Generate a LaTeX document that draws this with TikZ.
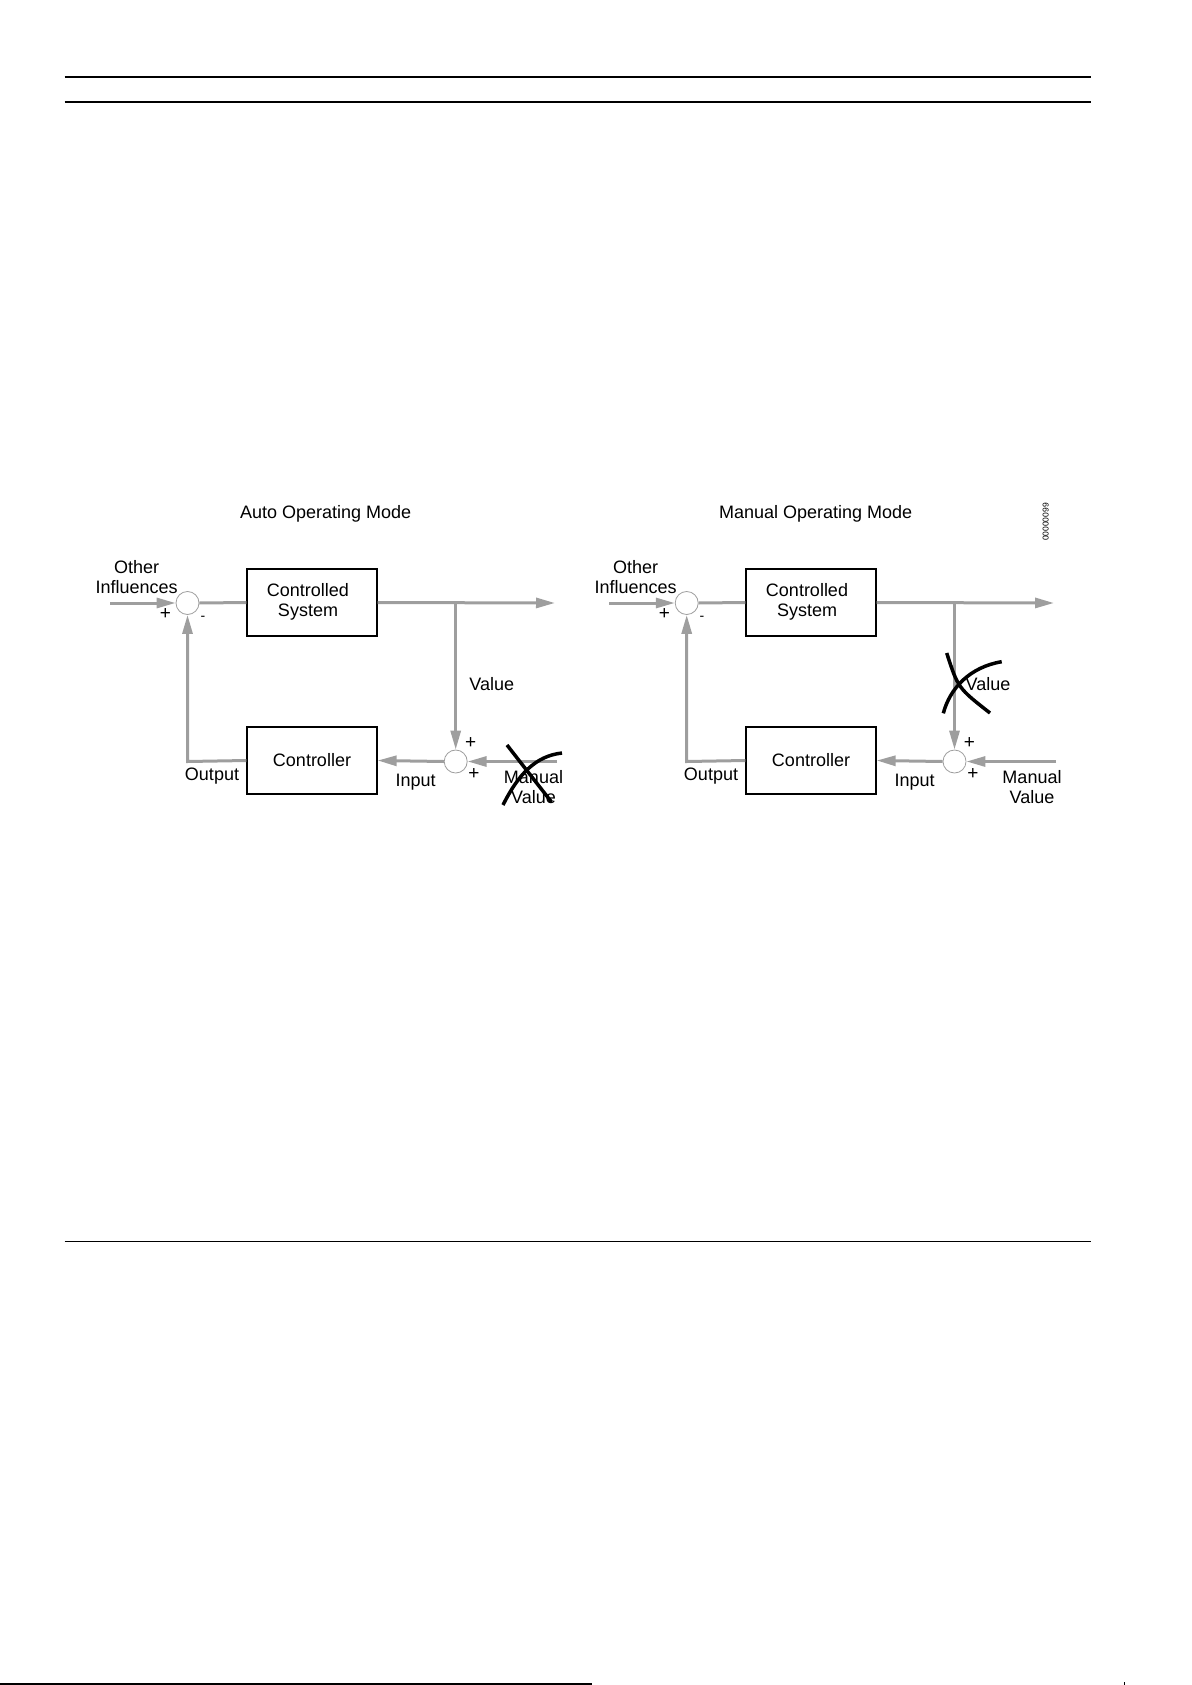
\documentclass[tikz,border=0pt]{standalone}
\usepackage{fontspec}
\setmainfont{Liberation Sans}
\usetikzlibrary{arrows.meta}
\definecolor{lgray}{HTML}{9E9E9E}
\begin{document}
\begin{tikzpicture}[x=1pt,y=-1pt,
  lbl/.style={font=\fontsize{18}{20}\selectfont, inner sep=0pt, align=center},
  sgn/.style={font=\fontsize{19}{20}\selectfont, inner sep=0pt},
  mns/.style={font=\fontsize{14}{16}\selectfont, inner sep=0pt},
  blk/.style={draw=black, line width=1.2pt, minimum width=130pt, minimum height=67pt, inner sep=0pt},
  sumc/.style={circle, draw=lgray, line width=0.8pt, minimum size=23pt, inner sep=0pt},
  sig/.style={draw=lgray, line width=3pt},
  sigarr/.style={sig, -{Triangle[length=19pt,width=10pt]}},
  crossln/.style={draw=black, line width=3.5pt},
  rulel/.style={draw=black, line width=1.3pt}]
\useasboundingbox (0,0) rectangle (1191,1685);
% page rules
\draw[rulel] (64.5,77) -- (1091,77);
\draw[rulel] (64.5,102) -- (1091,102);
\draw[rulel] (64.5,1241.5) -- (1091,1241.5);
\draw[draw=black, line width=2pt] (0,1683.5) -- (592,1683.5);
\draw[draw=black, line width=0.8pt] (1124,1682) -- (1124,1685);
% ---------------- left diagram ----------------
\node[lbl] (atitle) at (325.7,514) {Auto Operating Mode};
\node[sumc] (a1) at (187.5,603) {};
\node[blk] (acs) at (312,602.5) {};
\node[lbl] (acst) at (308,602) {Controlled\\System};
\node[blk,lbl] (actl) at (312,760.5) {Controller};
\node[sumc] (a2) at (455.7,761.5) {};
\coordinate (ain) at (110,603);
\coordinate (aout) at (555,603);
\coordinate (abr) at (455.7,603);
\coordinate (aman) at (557,761.5);
\coordinate (acorner) at (187.5,761.5);
\draw[sigarr] (ain) -- (a1.west);
\draw[sig] (a1.east) -- (acs.west);
\draw[sigarr] (acs.east) -- (aout);
\draw[sigarr] (abr) -- (a2.north);
\draw[sigarr] (aman) -- (a2.east);
\draw[sigarr] (a2.west) -- (actl.east);
\draw[sigarr] (actl.west) -- (acorner) -- (a1.south);
\node[lbl] (aoi) at (136.7,576.7) {Other\\Influences};
\node[sgn] (ap1) at (165.5,614) {+};
\node[mns] (am1) at (203,618) {-};
\node[lbl] (aval) at (491.7,684) {Value};
\node[lbl] (ainp) at (415.7,781.7) {Input};
\node[lbl] (aoutp) at (212,776) {Output};
\node[sgn] (ap2) at (470.7,743) {+};
\node[sgn] (ap3) at (474,774) {+};
\node[lbl] (amv) at (533.5,787) {Manual\\Value};
\draw[crossln] (507,745) .. controls (528,772) .. (551.5,802);
\draw[crossln] (503,805) .. controls (518,775) and (535,756) .. (562,753);
% ---------------- right diagram ----------------
\node[lbl] (btitle) at (815.7,514) {Manual Operating Mode};
\node[font=\fontsize{8.5}{9}\selectfont, rotate=90, inner sep=0pt] (bid) at (1045.7,522) {00000099};
\node[sumc] (b1) at (686.7,603) {};
\node[blk] (bcs) at (811,602.5) {};
\node[lbl] (bcst) at (807,602) {Controlled\\System};
\node[blk,lbl] (bctl) at (811,760.5) {Controller};
\node[sumc] (b2) at (954.5,761.5) {};
\coordinate (bin) at (609,603);
\coordinate (bout) at (1054,603);
\coordinate (bbr) at (954.5,603);
\coordinate (bman) at (1056,761.5);
\coordinate (bcorner) at (686.7,761.5);
\draw[sigarr] (bin) -- (b1.west);
\draw[sig] (b1.east) -- (bcs.west);
\draw[sigarr] (bcs.east) -- (bout);
\draw[sigarr] (bbr) -- (b2.north);
\draw[sigarr] (bman) -- (b2.east);
\draw[sigarr] (b2.west) -- (bctl.east);
\draw[sigarr] (bctl.west) -- (bcorner) -- (b1.south);
\node[lbl] (boi) at (635.7,576.7) {Other\\Influences};
\node[sgn] (bp1) at (664.5,614) {+};
\node[mns] (bm1) at (702,618) {-};
\node[lbl] (bval) at (988,684) {Value};
\node[lbl] (binp) at (914.7,781.7) {Input};
\node[lbl] (boutp) at (711,776) {Output};
\node[sgn] (bp2) at (969.5,743) {+};
\node[sgn] (bp3) at (973,774) {+};
\node[lbl] (bmv) at (1032,787) {Manual\\Value};
\draw[crossln] (946.7,653) .. controls (958,688) .. (990,713);
\draw[crossln] (943.3,713.3) .. controls (950,688) and (970,667) .. (1001.7,661.7);
\end{tikzpicture}
\end{document}
